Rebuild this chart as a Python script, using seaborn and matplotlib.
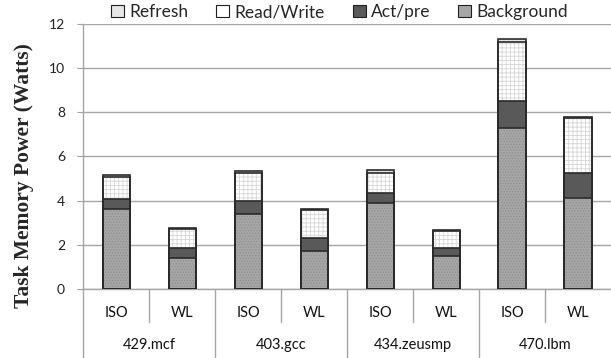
import matplotlib
matplotlib.use("Agg")
import matplotlib.pyplot as plt
import seaborn as sns
import pandas as pd
import numpy as np
from matplotlib.patches import Patch
from matplotlib.transforms import blended_transform_factory

benchmarks = ["429.mcf", "403.gcc", "434.zeusmp", "470.lbm"]
modes = ["ISO", "WL"]
background = [3.60, 1.42, 3.38, 1.71, 3.89, 1.49, 7.30, 4.13]
act_pre = [0.46, 0.42, 0.59, 0.58, 0.44, 0.37, 1.21, 1.11]
read_write = [0.99, 0.87, 1.29, 1.28, 0.93, 0.76, 2.68, 2.51]
refresh = [0.11, 0.03, 0.09, 0.03, 0.11, 0.03, 0.12, 0.02]
series_names = ["Background", "Act/pre", "Read/Write", "Refresh"]
yticks = [0, 2, 4, 6, 8, 10, 12]

sns.set_theme(style="white")
plt.rcParams["font.family"] = ["Lato", "DejaVu Sans"]
plt.rcParams["hatch.linewidth"] = 0.6

cats = [f"{b} {m}" for b in benchmarks for m in modes]
layers = [background, act_pre, read_write, refresh]
cum = np.cumsum(np.array(layers), axis=0)
df = pd.DataFrame({"cat": cats})
for name, c in zip(series_names, cum):
    df[name] = c

styles = {
    "Background": dict(fill="#A6A6A6", hatch="......", hcolor="#909090"),
    "Act/pre": dict(fill="#595959", hatch=None, hcolor="#595959"),
    "Read/Write": dict(fill="#FFFFFF", hatch="++++", hcolor="#D6D6D6"),
    "Refresh": dict(fill="#E6E6E6", hatch="....", hcolor="#CCCCCC"),
}

fig = plt.figure(figsize=(6.11, 3.58), dpi=100)
ax = fig.add_axes([0.136, 0.193, 0.864, 0.740])

for name in reversed(series_names):
    st = styles[name]
    sns.barplot(data=df, x="cat", y=name, ax=ax, color=st["fill"], order=cats,
                width=0.41, saturation=1, linewidth=0, edgecolor=st["hcolor"],
                hatch=st["hatch"], errorbar=None, zorder=2)
    sns.barplot(data=df, x="cat", y=name, ax=ax, order=cats, width=0.41,
                fill=False, linewidth=1.2, edgecolor="#2A2A2A", errorbar=None,
                zorder=3)

ax.set_ylim(0, 12)
ax.set_xlim(-0.5, 7.5)
ax.set_yticks(yticks)
ax.set_yticklabels([str(t) for t in yticks], fontsize=10, color="#222222")
ax.tick_params(axis="y", length=4, width=0.8, color="#A0A0A0", pad=9, left=True)
ax.set_xticks([])
ax.set_xlabel("")
ax.set_ylabel("")
ax.grid(axis="y", color="#A6A6A6", linewidth=1.0, zorder=0)
ax.set_axisbelow(True)
for s in ["top", "right"]:
    ax.spines[s].set_visible(False)
ax.spines["left"].set_color("#A6A6A6")
ax.spines["bottom"].set_color("#A6A6A6")
ax.spines["left"].set_linewidth(1.0)
ax.spines["bottom"].set_linewidth(1.0)

tr = blended_transform_factory(ax.transData, ax.transAxes)
for x in [0.5, 2.5, 4.5, 6.5]:
    ax.plot([x, x], [0, -0.125], transform=tr, color="#A6A6A6", lw=1.0, clip_on=False)
for x in [-0.5, 1.5, 3.5, 5.5]:
    ax.plot([x, x], [0, -0.27], transform=tr, color="#A6A6A6", lw=1.0, clip_on=False)
for i, c in enumerate(cats):
    ax.text(i, -0.09, c.split(" ")[1], transform=tr, ha="center", va="center",
            fontsize=10.5, color="#111111")
for j, b in enumerate(benchmarks):
    ax.text(2 * j + 0.5, -0.212, b, transform=tr, ha="center", va="center",
            fontsize=10.5, color="#111111")

fig.text(24 / 611, 1 - 176 / 358, "Task Memory Power (Watts)", rotation=90,
         ha="center", va="center", fontsize=15.5, fontweight="bold",
         family=["Liberation Serif", "DejaVu Serif"])

handles = []
for name in ["Refresh", "Read/Write", "Act/pre", "Background"]:
    st = styles[name]
    handles.append(Patch(facecolor=st["fill"], edgecolor="#202020", linewidth=0.8,
                         label=name))
fig.legend(handles=handles, loc="center", bbox_to_anchor=(0.556, 1 - 12 / 358),
           ncol=4, frameon=False, fontsize=12.5, handlelength=0.75, handleheight=0.75,
           handletextpad=0.3, columnspacing=1.6, borderaxespad=0)

fig.savefig("out.png", dpi=100)
